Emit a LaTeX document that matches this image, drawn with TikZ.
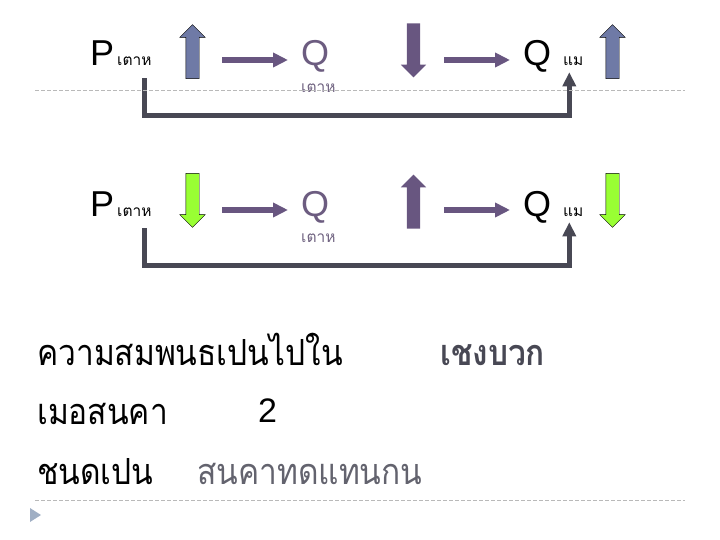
\documentclass[tikz,border=0pt]{standalone}
\usepackage{fontspec}
\setmainfont{Liberation Sans}
\newfontfamily\thai[Script=Thai]{Loma}
\newfontfamily\thaitall[Script=Thai,FakeStretch=0.88]{Loma}
\usetikzlibrary{shapes.arrows, arrows.meta, positioning}
\definecolor{slate}{RGB}{111,122,166}
\definecolor{plum}{RGB}{104,86,128}
\definecolor{leaf}{RGB}{153,255,51}
\definecolor{ink}{RGB}{72,72,84}
\definecolor{mist}{RGB}{160,175,196}

\begin{document}
\begin{tikzpicture}[x=1pt, y=-1pt, >=Triangle,
  blk/.style={shape=single arrow, minimum height=54pt, inner sep=6.5pt, single arrow head extend=6pt},
  up/.style={blk, shape border rotate=90},
  down/.style={blk, shape border rotate=270},
  flow/.style={->, plum, line width=6pt, arrows={-Triangle[length=15pt,width=14pt]}},
  feed/.style={->, ink, line width=5pt, arrows={-Triangle[length=14pt,width=13pt]}},
  big/.style={anchor=base west, inner sep=0pt, font=\fontsize{36}{36}\selectfont},
  sub/.style={anchor=base west, inner sep=0pt, font=\thai\fontsize{15.5}{15.5}\selectfont},
  line/.style={anchor=base west, inner sep=0pt, font=\thaitall\fontsize{36}{36}\selectfont},
  rule/.style={gray!55, dash pattern=on 4pt off 2pt, line width=0.8pt}]
  \useasboundingbox (0,0) rectangle (720,540);

  \node[big] (p1) at (90,66) {P};
  \node[sub] (p1s) at (117,66) {เตาห};
  \node[up, fill=slate, draw=black] (a1) at (192.5,55) {};
  \node[big, text=plum!85!gray] (q1) at (301,66) {Q};
  \node[sub, text=plum!70!gray] (q1s) at (301,93) {เตาห};
  \node[down, fill=plum] (b1) at (413.5,47) {};
  \node[big] (r1) at (523,66) {Q};
  \node[sub] (m1) at (563,66) {แม};
  \node[up, fill=slate, draw=black] (c1) at (612.5,55) {};
  \draw[flow, shorten <=29.5pt, shorten >=13pt] ([yshift=6pt]a1.center |- q1.base west) -- ([yshift=6pt]q1.base west);
  \draw[flow, shorten <=30.5pt, shorten >=13pt] ([yshift=6pt]b1.center |- r1.base west) -- ([yshift=6pt]r1.base west);
  \draw[feed, shorten >=1pt] ([xshift=10pt,yshift=-12pt]p1s.south) -- ++(0,37) -| ([xshift=-4pt,yshift=-5pt]m1.south);
  \draw[rule] (35,90) -- (685,90);

  \node[big] (p2) at (90,216) {P};
  \node[sub] (p2s) at (117,216) {เตาห};
  \node[down, fill=leaf, draw=black] (a2) at (192.5,197) {};
  \node[big, text=plum!85!gray] (q2) at (301,216) {Q};
  \node[sub, text=plum!70!gray] (q2s) at (301,243) {เตาห};
  \node[up, fill=plum] (b2) at (413.5,205) {};
  \node[big] (r2) at (523,216) {Q};
  \node[sub] (m2) at (563,216) {แม};
  \node[down, fill=leaf, draw=black] (c2) at (612.5,197) {};
  \draw[flow, shorten <=29.5pt, shorten >=13pt] ([yshift=6pt]a2.center |- q2.base west) -- ([yshift=6pt]q2.base west);
  \draw[flow, shorten <=30.5pt, shorten >=13pt] ([yshift=6pt]b2.center |- r2.base west) -- ([yshift=6pt]r2.base west);
  \draw[feed, shorten >=1pt] ([xshift=10pt,yshift=-12pt]p2s.south) -- ++(0,37) -| ([xshift=-4pt,yshift=-5pt]m2.south);

  \node[line] (t1) at (37,365) {ความสมพนธเปนไปใน};
  \node[line, text=ink, font=\thaitall\bfseries\fontsize{36}{36}\selectfont] (t1b) at (440,365) {เชงบวก};
  \node[line] (t2) at (37,424) {เมอสนคา};
  \node[big, font=\fontsize{34}{34}\selectfont] (t2b) at (258,422) {2};
  \node[line] (t3) at (37,484) {ชนดเปน};
  \node[line, text=ink!85] (t3b) at (197,484) {สนคาทดแทนกน};
  \draw[rule] (35,500) -- (685,500);
  \fill[mist] (30,508) -- (41,515) -- (30,522) -- cycle;
\end{tikzpicture}
\end{document}
